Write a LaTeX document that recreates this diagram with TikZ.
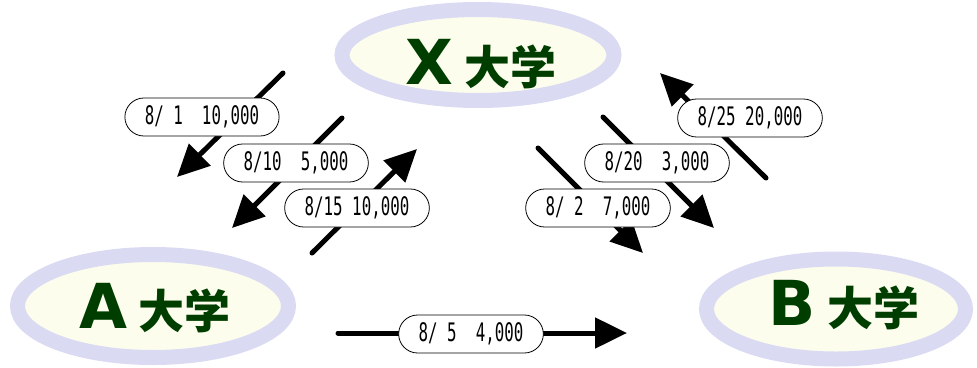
\documentclass[tikz,border=0pt]{standalone}
\usepackage{fontspec}
\usepackage{tikz}
\usetikzlibrary{arrows.meta,shapes.geometric}
\newfontfamily\jfont{Noto Sans CJK JP}
\newfontfamily\lfont{DejaVu Sans}
\newfontfamily\tagfont{DejaVu Sans Mono}[FakeStretch=0.62]
\definecolor{ring}{RGB}{218,218,242}
\definecolor{ivory}{RGB}{253,253,238}
\definecolor{uni}{RGB}{0,62,0}
\newcommand{\univ}[1]{{\lfont\fontsize{62}{62}\selectfont #1}\hspace{11pt}{\fontsize{46}{46}\selectfont 大学}}

\begin{document}
\begin{tikzpicture}[x=1pt,y=-1pt,
  campus/.style={ellipse, draw=ring, fill=ivory, line width=15pt, inner sep=0pt},
  uname/.style={anchor=base, text=uni, font=\jfont\bfseries, inner sep=0pt},
  flow/.style={line width=5pt, line cap=round, -{Triangle[length=32pt,width=30pt]}},
  tag/.style={draw, fill=white, line width=0.8pt, rounded corners=19pt, minimum height=38pt, inner xsep=20pt, inner ysep=0pt, font=\tagfont\fontsize{25.5}{25.5}\selectfont}]
\useasboundingbox (0,0) rectangle (977,367);
\node [campus, minimum width=272pt, minimum height=91pt] (X) at (478,55) {};
\node [campus, minimum width=271pt, minimum height=103pt] (A) at (153,306) {};
\node [campus, minimum width=259pt, minimum height=100pt] (B) at (836,309) {};
\node [uname] (Xname) at (481,84) {\univ{X}};
\node [uname] (Aname) at (155,328) {\univ{A}};
\node [uname] (Bname) at (844,325) {\univ{B}};
\coordinate (s1) at (283,73);  \coordinate (e1) at (177,177);
\coordinate (s2) at (342,118); \coordinate (e2) at (232,228);
\coordinate (s3) at (312,253); \coordinate (e3) at (417,149);
\coordinate (s4) at (538,148); \coordinate (e4) at (643,253);
\coordinate (s5) at (338,333); \coordinate (e5) at (627,333);
\coordinate (s6) at (603,117); \coordinate (e6) at (714,228);
\coordinate (s7) at (766,178); \coordinate (e7) at (660,73);
\foreach \i in {1,...,7} \draw [flow] (s\i) -- (e\i);
\node [tag] (d1) at (202,117) {8/~1~~10,000};
\node [tag] (d2) at (296,163) {8/10~~5,000};
\node [tag] (d3) at (357,208) {8/15~10,000};
\node [tag] (d4) at (598,208) {8/~2~~7,000};
\node [tag] (d5) at (471,334) {8/~5~~4,000};
\node [tag] (d6) at (657,163) {8/20~~3,000};
\node [tag] (d7) at (750,118) {8/25~20,000};
\end{tikzpicture}
\end{document}
